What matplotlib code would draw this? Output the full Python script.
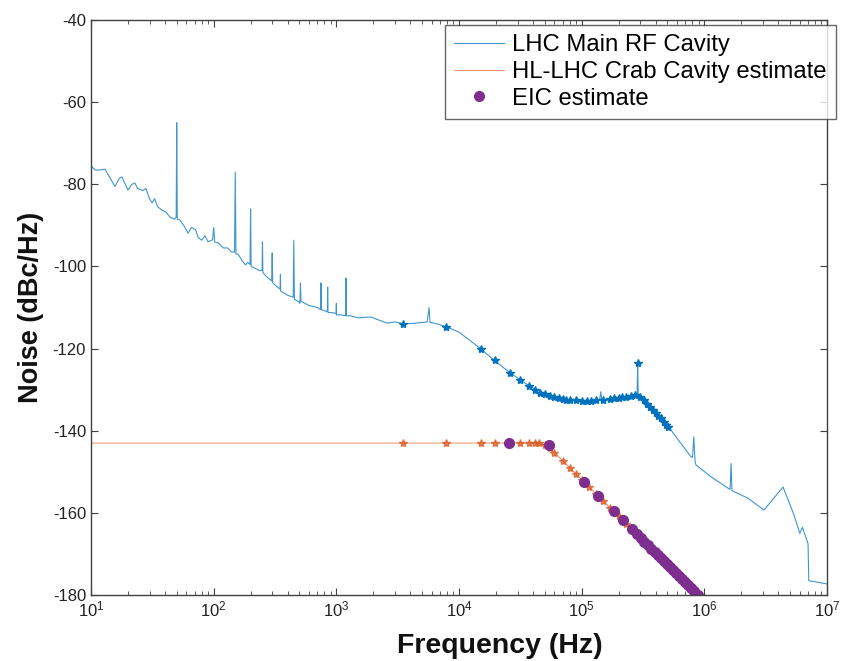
import matplotlib
matplotlib.use("Agg")
import matplotlib.pyplot as plt

plt.rcParams['font.family'] = ['Liberation Sans', 'DejaVu Sans']
plt.rcParams['mathtext.fontset'] = 'custom'
plt.rcParams['mathtext.rm'] = 'Liberation Sans'
plt.rcParams['axes.unicode_minus'] = False

# LHC main RF cavity measured spectrum (Hz, dBc/Hz)
lhc_freq = [10, 10.8, 12, 13, 14, 15.7, 17, 17.9, 19, 20, 21.5, 22.8, 24, 26.5, 28,
            30, 31.5, 33, 35, 38, 41, 44, 48, 49.5, 50, 50.5, 53, 57, 62, 66, 71,
            75, 80, 85, 90, 98, 100, 102, 109, 120, 130, 140, 148, 150, 152, 158,
            170, 181, 190, 198, 200, 202, 220, 235, 248, 250, 252, 270, 297, 300,
            303, 330, 348, 350, 352, 400, 445, 450, 455, 490, 505, 510, 515, 600,
            700, 745, 750, 755, 800, 845, 850, 855, 950, 995, 1000, 1005, 1100,
            1190, 1200, 1210, 1300, 1500, 1900, 2200, 2600, 3000, 3520, 4500, 5500,
            5700, 5800, 6670, 8050, 10000, 15000, 19100, 26300, 31700, 38300,
            52800, 71200, 98100, 120000, 140000, 143000, 146000, 160000, 197000,
            266000, 283000, 286000, 289000, 320000, 400000, 467000, 533000, 776000,
            800000, 820000, 840000, 853000, 1130000, 1560000, 1620000, 1650000,
            1680000, 2260000, 3060000, 4380000, 5380000, 6000000, 6300000,
            7000000, 7100000, 10000000]
lhc_db = [-75.5, -76.5, -76.5, -76.3, -78, -80.5, -78.5, -78.2, -80, -81.4, -80,
          -79.7, -81, -81.5, -81, -83.5, -84.5, -83.5, -85.5, -86.3, -86.8, -88,
          -88.5, -88, -65, -88.5, -88.7, -90, -91.9, -90.5, -91, -93, -93.6, -92.5,
          -94, -93.5, -90.5, -94, -94.3, -95.5, -95.5, -96.5, -96.5, -77, -97, -97,
          -98.5, -99.6, -99, -99.5, -86, -100, -100.5, -101, -101, -94, -101.5,
          -102.5, -103.5, -96.7, -104, -105, -105.5, -102, -106, -107, -107.5,
          -93.6, -108, -108.5, -109, -104, -108.5, -109.5, -110, -110.5, -104,
          -110.5, -110.8, -111, -105, -111.2, -111.3, -111.5, -109, -111.8,
          -111.8, -112, -102.8, -112, -112, -112.5, -112.3, -113, -113.8, -113.5,
          -114, -113.8, -113.5, -110, -113.6, -114, -114.8, -116, -120, -122.7,
          -126, -127.6, -129.3, -131.3, -132.3, -132.7, -132.8, -132.6, -130.5,
          -132.7, -132.6, -132, -131.3, -131.2, -123.5, -131.3, -132.3, -135.5,
          -137.9, -139.8, -146.3, -146.5, -141.5, -147.5, -148.3, -151.2, -154,
          -154.3, -148, -154.6, -156.4, -159.3, -153.7, -160.5, -165, -163.5,
          -167.5, -176.5, -177.3]

# LHC values at the estimate frequencies (star markers)
lhc_mark_freq = [3500, 7900, 15000, 19500, 26000, 31600, 37500, 42000, 46000, 50000,
                 55000, 60000, 65000, 70000, 75000, 80000, 90000, 100000, 110000,
                 120000, 130000, 150000, 170000, 185000, 200000, 215000, 230000,
                 250000, 270000, 286000, 300000, 320000, 340000, 360000, 380000,
                 400000, 420000, 440000, 470000, 490000, 510000]
lhc_mark_db = [-114, -114.7, -120, -122.8, -125.9, -127.6, -129.1, -130, -130.7, -131.1,
               -131.5, -131.8, -132, -132.2, -132.4, -132.5, -132.6, -132.7, -132.7,
               -132.7, -132.6, -132.4, -132.2, -132.1, -132, -131.9, -131.7,
               -131.5, -131.4, -123.5, -131.8, -132.6, -133.5, -134.3, -135,
               -135.7, -136.3, -137, -137.9, -138.5, -139.2]

# HL-LHC crab cavity estimate
crab_freq = [10, 3500, 7900, 15000, 19500, 31600, 37500, 41600, 45000, 50000, 55000,
             60000, 70000, 80000, 90000, 100000, 115000, 130000, 150000, 170000,
             200000, 230000, 270000, 320000, 380000, 440000, 510000, 590000, 680000,
             780000, 870000]
crab_db = [-143, -143, -143, -143, -143, -143, -143, -143, -143.1, -143.5, -144.3,
           -145.3, -147.3, -149, -150.6, -151.9, -153.7, -155.3, -157.1, -158.7,
           -160.8, -162.6, -164.7, -166.9, -169.1, -171, -172.9, -174.7, -176.6,
           -178.3, -179.7]

# EIC estimate
eic_freq = [25400, 53800, 104000, 135000, 182000, 216000, 256000, 280000, 303000,
            325000, 346000, 370000, 394000, 417000, 441000, 467000, 494000, 523000,
            553000, 585000, 619000, 655000, 693000, 733000, 776000, 830000, 885000]
eic_db = [-143, -143.5, -152.4, -155.8, -159.6, -161.8, -164, -165.1, -166.2,
          -167.1, -167.9, -168.7, -169.5, -170.3, -171, -171.7, -172.4, -173.2,
          -173.9, -174.6, -175.3, -176.1, -176.8, -177.5, -178.2, -179.1, -179.9]

blue = '#0072BD'
orange = '#D95319'
purple = '#7E2F8E'
axcol = '#404040'

fig = plt.figure(figsize=(8.44, 6.61), dpi=100)
ax = fig.add_axes([0.1078, 0.0998, 0.8721, 0.8699])

ax.plot(lhc_freq, lhc_db, color=blue, lw=0.8, alpha=0.75, label='LHC Main RF Cavity')
ax.plot(lhc_mark_freq, lhc_mark_db, ls='none', marker='*', ms=6, color=blue)
ax.plot(crab_freq, crab_db, color=orange, lw=0.6, alpha=0.75,
        label='HL-LHC Crab Cavity estimate')
ax.plot(crab_freq[1:], crab_db[1:], ls='none', marker='*', ms=6, color=orange, alpha=0.7)
ax.plot(eic_freq, eic_db, ls='none', marker='o', ms=7, color=purple,
        label='EIC estimate')

ax.set_xscale('log')
ax.set_xlim(10, 1e7)
ax.set_ylim(-180, -40)
ax.set_yticks(range(-180, -39, 20))
ax.tick_params(which='both', direction='in', top=True, right=True,
               colors=axcol, labelcolor='#222222', labelsize=12)
ax.tick_params(which='major', length=5)
ax.tick_params(which='minor', length=3)
for s in ax.spines.values():
    s.set_color(axcol)
    s.set_linewidth(1.0)

ax.set_xlabel('Frequency (Hz)', fontsize=20.5, fontweight='bold', color='#111111')
ax.xaxis.set_label_coords(0.555, -0.066, transform=ax.transAxes)
ax.xaxis.label.set_va('top')
ax.set_ylabel('Noise (dBc/Hz)', fontsize=19.5, fontweight='bold', color='#111111', labelpad=6)

leg = ax.legend(loc='upper right', fontsize=17.2, frameon=True, fancybox=False,
                handlelength=2.1, handletextpad=0.34, borderpad=0.38, labelspacing=0.2,
                borderaxespad=0.0, bbox_to_anchor=(1.0115, 0.991))
leg.get_frame().set_edgecolor(axcol)
leg.get_frame().set_linewidth(1.0)

fig.savefig('out.png', dpi=100)
